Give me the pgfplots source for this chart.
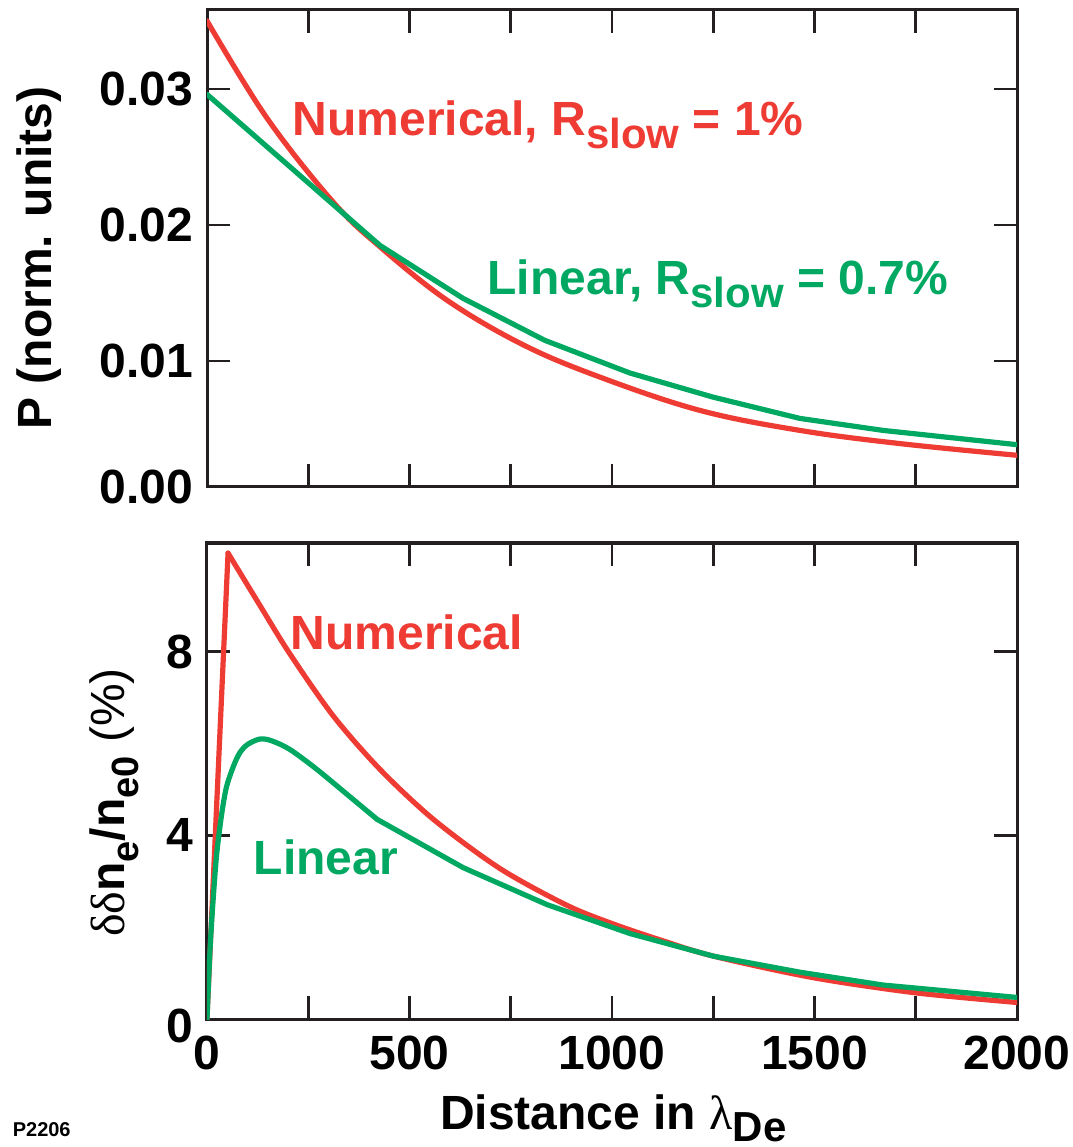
\documentclass[border=0pt]{standalone}
\usepackage{fontspec}
\setmainfont{Liberation Sans}
\newfontfamily\grk{Liberation Serif}
\usepackage{pgfplots}
\pgfplotsset{compat=1.18}
\definecolor{numred}{HTML}{EE3B33}
\definecolor{lingreen}{HTML}{00A862}
\definecolor{frame}{HTML}{231F20}

% lowered, smaller subscript
\newcommand{\sub}[2][3.2pt]{\raisebox{-#1}{\fontsize{10.5}{12}\selectfont #2}}
\newcommand{\subs}[2][3.5pt]{\raisebox{-#1}{\fontsize{9.5}{11}\selectfont #2}}

\pgfplotsset{
  panel/.style={
    scale only axis, width=202.5pt,
    xmin=0, xmax=2000,
    axis line style={frame, line width=0.75pt},
    tick style={frame, line width=0.65pt},
    major tick length=5.75pt,
    tick align=inside,
    xtick={0,250,...,2000},
    scaled y ticks=false,
    ticklabel style={font=\fontsize{12}{14}\selectfont\bfseries, inner sep=0pt},
    yticklabel style={xshift=-3.3pt},
    xticklabel style={yshift=-4pt},
  },
  curve/.style={line width=1.3pt, line join=round, line cap=round},
}

\begin{document}
\begin{tikzpicture}[font=\fontsize{12}{14}\selectfont\bfseries]

% top panel: P
\begin{axis}[panel, at={(0,133pt)}, height=119.25pt,
  ymin=0.00074, ymax=0.0358,
  ytick={0.00074,0.01,0.02,0.03}, yticklabels={0.00,0.01,0.02,0.03},
  xticklabels={,,,,,,,,}]
\addplot[curve, numred, smooth, tension=0.6] coordinates {
  (0,0.0350) (147,0.0279) (311,0.0217) (427,0.0184)
  (593,0.01446) (780,0.0112) (970,0.00882) (1217,0.00637) (1464,0.0049)
  (1711,0.00393) (2000,0.00307)};
\addplot[curve, lingreen] coordinates {
  (0,0.0296) (427,0.0185) (632,0.01461) (834,0.01152) (1044,0.00912)
  (1249,0.00735) (1464,0.00578) (1669,0.0049) (2000,0.00385)};
\node[anchor=base west, inner sep=0, text=numred, font=\fontsize{12}{14}\selectfont\bfseries]
  at (axis cs:210,0.02659) {Numerical, R\sub{slow} = 1\%};
\node[anchor=base west, inner sep=0, text=lingreen, font=\fontsize{12}{14}\selectfont\bfseries]
  at (axis cs:691,0.01489) {Linear, R\sub{slow} = 0.7\%};
\end{axis}

% bottom panel: density perturbation
\begin{axis}[panel, at={(0,0)}, height=119pt,
  ymin=0, ymax=10.37,
  ytick={4,8}, yticklabels={4,8},
  extra y ticks={0}, extra y tick labels={0},
  extra y tick style={yticklabel style={yshift=-1.75pt}},
  xticklabels={0,,500,,1000,,1500,,2000}]
\addplot[curve, numred] coordinates {(0,0) (52,10.15)};
\addplot[curve, numred, smooth] coordinates {
  (52,10.15) (130,9.02) (205,7.95) (312,6.6) (427,5.44) (559,4.35)
  (723,3.28) (888,2.48) (1000,2.08) (1120,1.72) (1250,1.37) (1497,0.90)
  (1750,0.57) (2000,0.36)};
\addplot[curve, lingreen, smooth, tension=0.5] coordinates {
  (0,0) (8,1.6) (16,2.7) (24,3.6) (36,4.45) (48,5.05) (65,5.5) (81,5.80)
  (100,5.98) (131,6.10) (160,6.06) (205,5.87) (271,5.44) (345,4.90) (420,4.35)};
\addplot[curve, lingreen] coordinates {
  (420,4.35) (632,3.30) (840,2.49) (1045,1.86) (1250,1.37) (1464,1.02)
  (1669,0.74) (2000,0.47)};
\node[anchor=base west, inner sep=0, text=numred, font=\fontsize{12}{14}\selectfont\bfseries]
  at (axis cs:205,8.04) {Numerical};
\node[anchor=base west, inner sep=0, text=lingreen, font=\fontsize{12}{14}\selectfont\bfseries]
  at (axis cs:114,3.15) {Linear};
\end{axis}

% axis titles
\node[rotate=90, anchor=base, inner sep=0] at (-38.75pt,190.25pt) {P (norm. units)};
\node[rotate=90, anchor=base, inner sep=0] at (-20.5pt,54.1pt)
  {{\grk\mdseries δδ}n\subs{e}/n\subs{e0} {\mdseries (\%)}};
\node[anchor=base, inner sep=0] at (101.6pt,-27.5pt)
  {Distance in {\grk\mdseries λ}\sub[3pt]{De}};
\node[anchor=base west, inner sep=0, font=\fontsize{5}{6}\selectfont\bfseries]
  at (-48.75pt,-29.4pt) {P2206};

\pgfresetboundingbox
\path[use as bounding box] (-51.75pt,-32pt) rectangle (216.25pt,254.75pt);
\end{tikzpicture}
\end{document}
